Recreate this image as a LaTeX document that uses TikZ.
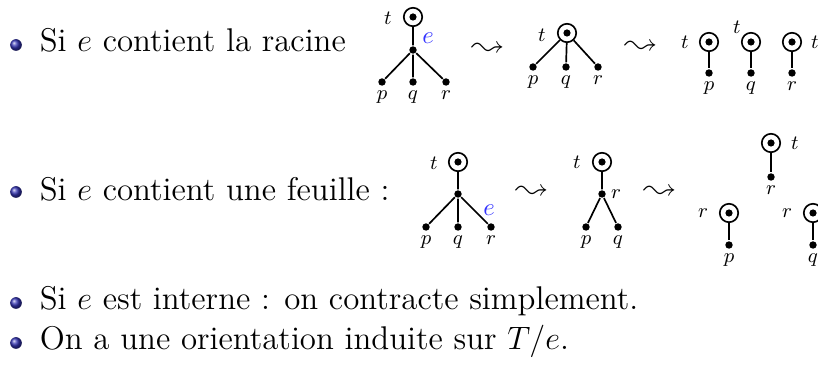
\documentclass[tikz,border=0pt]{standalone}
\usepackage{amsmath,latexsym}
\usepackage{xcolor}
\usetikzlibrary{positioning}
\definecolor{itemBlue}{RGB}{51,51,179}
\definecolor{edgeBlue}{RGB}{51,51,255}

\begin{document}
\begin{tikzpicture}[x=0.4444pt, y=-0.4444pt, line width=0.75pt,
  root/.style={circle, draw, inner sep=0pt, minimum size=8.2pt,
    path picture={\fill (path picture bounding box.center) circle (1.6pt);}},
  vert/.style={circle, fill, inner sep=0pt, minimum size=3.3pt},
  lab/.style={font=\fontsize{8.6}{10}\selectfont, inner sep=1pt},
  elab/.style={font=\fontsize{10.5}{12}\selectfont, text=edgeBlue, inner sep=0pt},
  squig/.style={font=\fontsize{14}{16}\selectfont, inner sep=0pt},
  bullet/.style={circle, ball color=itemBlue, inner sep=0pt, minimum size=5.2pt},
  itemtext/.style={anchor=base west, inner sep=0pt, font=\fontsize{14.6}{17}\selectfont}]
\useasboundingbox (0,0) rectangle (818,370);
\clip (0,0) rectangle (818,370);
% items
\node[bullet] (b1) at (16,45) {};
\node[itemtext] (i1) at (39,52) {Si $e$ contient la racine};
\node[bullet] (b2) at (16,192) {};
\node[itemtext] (i2) at (39,201) {Si $e$ contient une feuille :};
\node[bullet] (b3) at (16,303) {};
\node[itemtext] (i3) at (39,310) {Si $e$ est interne : on contracte simplement.};
\node[bullet] (b4) at (16,343) {};
\node[itemtext] (i4) at (39,350) {On a une orientation induite sur $T/e$.};
% first row: e contains the root
\node[root] (t1) at (413,17) {};
\node[vert] (m1) at (413,50) {};
\node[vert] (p1) at (382,82) {};
\node[vert] (q1) at (413,82) {};
\node[vert] (r1) at (446,82) {};
\draw (t1) -- (m1) (m1) -- (p1) (m1) -- (q1) (m1) -- (r1);
\node[lab] at (388,18) {$t$};
\node[elab] at (428,38) {$e$};
\node[lab, below=0.4pt of p1] {$p$};
\node[lab, below=0.4pt of q1] {$q$};
\node[lab, below=0.4pt of r1] {$r$};
\node[squig] (s1) at (488,50) {$\leadsto$};
% contracted
\node[root] (t2) at (567,33) {};
\node[vert] (p2) at (533,67) {};
\node[vert] (q2) at (566,67) {};
\node[vert] (r2) at (598,67) {};
\draw (t2) -- (p2) (t2) -- (q2) (t2) -- (r2);
\node[lab] at (542,35) {$t$};
\node[lab, below=0.4pt of p2] {$p$};
\node[lab, below=0.4pt of q2] {$q$};
\node[lab, below=0.4pt of r2] {$r$};
\node[squig] (s2) at (641,48) {$\leadsto$};
% split
\node[root] (t3a) at (709,42) {};
\node[root] (t3b) at (751,42) {};
\node[root] (t3c) at (792,42) {};
\node[vert] (p3) at (709,73) {};
\node[vert] (q3) at (751,73) {};
\node[vert] (r3) at (792,73) {};
\draw (t3a) -- (p3) (t3b) -- (q3) (t3c) -- (r3);
\node[lab] at (685,42) {$t$};
\node[lab] at (737,27) {$t$};
\node[lab] at (815,42) {$t$};
\node[lab, below=0.4pt of p3] {$p$};
\node[lab, below=0.4pt of q3] {$q$};
\node[lab, below=0.4pt of r3] {$r$};
% second row: e contains a leaf
\node[root] (t4) at (458,162) {};
\node[vert] (m4) at (458,194) {};
\node[vert] (p4) at (426,227) {};
\node[vert] (q4) at (458,227) {};
\node[vert] (r4) at (491,227) {};
\draw (t4) -- (m4) (m4) -- (p4) (m4) -- (q4) (m4) -- (r4);
\node[lab] at (434,163) {$t$};
\node[elab] at (489,210) {$e$};
\node[lab, below=0.4pt of p4] {$p$};
\node[lab, below=0.4pt of q4] {$q$};
\node[lab, below=0.4pt of r4] {$r$};
\node[squig] (s3) at (532,193) {$\leadsto$};
% contracted
\node[root] (t5) at (602,162) {};
\node[vert] (m5) at (602,194) {};
\node[vert] (p5) at (586,227) {};
\node[vert] (q5) at (618,227) {};
\draw (t5) -- (m5) (m5) -- (p5) (m5) -- (q5);
\node[lab] at (577,162) {$t$};
\node[lab] at (616,194) {$r$};
\node[lab, below=0.4pt of p5] {$p$};
\node[lab, below=0.4pt of q5] {$q$};
\node[squig] (s4) at (660,193) {$\leadsto$};
% split
\node[root] (t6a) at (771,143) {};
\node[vert] (r6) at (771,177) {};
\node[root] (t6b) at (729,213) {};
\node[vert] (p6) at (729,245) {};
\node[root] (t6c) at (813,213) {};
\node[vert] (q6) at (813,245) {};
\draw (t6a) -- (r6) (t6b) -- (p6) (t6c) -- (q6);
\node[lab] at (795,143) {$t$};
\node[lab] at (703,213) {$r$};
\node[lab] at (787,213) {$r$};
\node[lab, below=0.4pt of r6] {$r$};
\node[lab, below=0.4pt of p6] {$p$};
\node[lab, below=0.4pt of q6] {$q$};
\end{tikzpicture}
\end{document}
